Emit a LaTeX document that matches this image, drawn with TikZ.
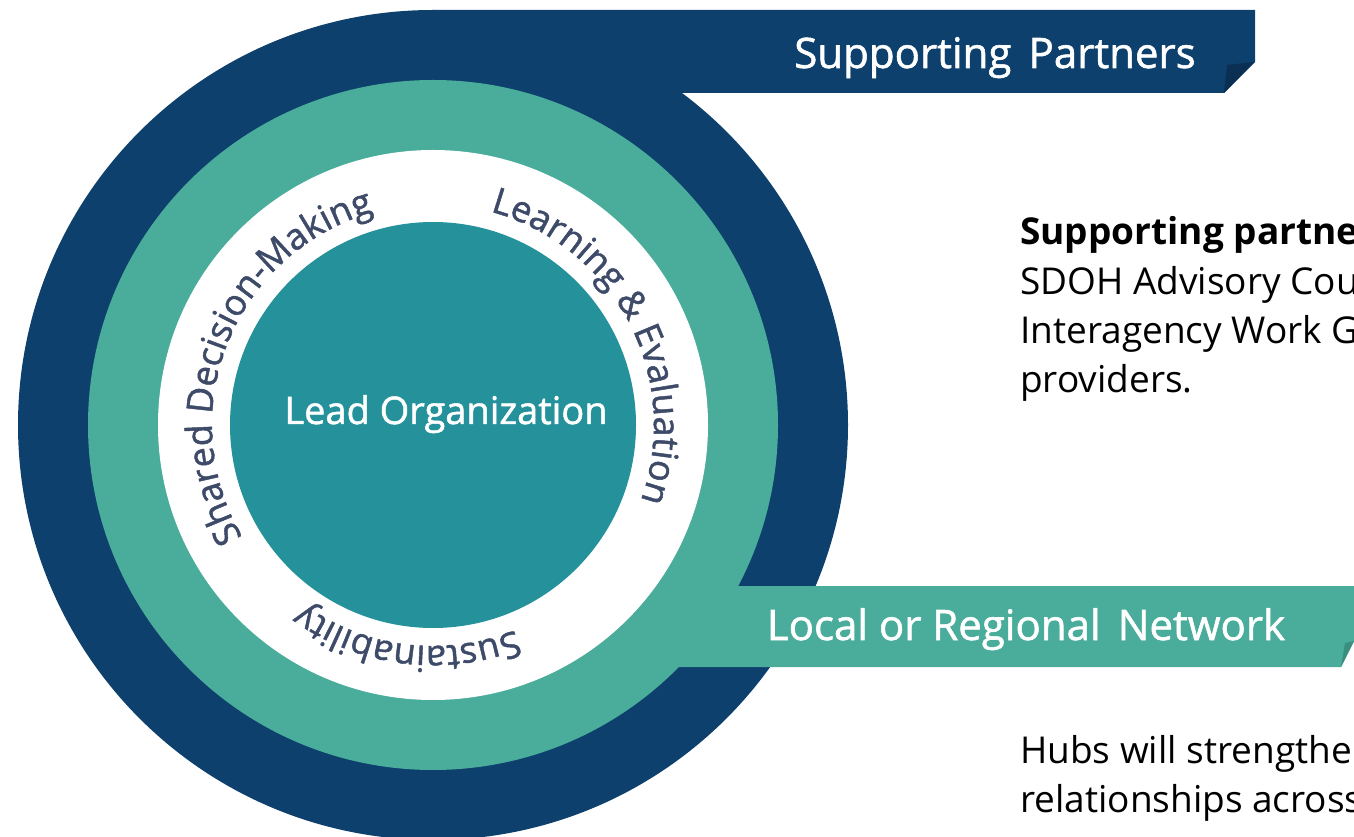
\documentclass[tikz,border=0pt]{standalone}
\usepackage{fontspec}
\setmainfont{Open Sans}
\newfontfamily\semifont[FakeBold=1.3]{Open Sans}
\usetikzlibrary{decorations.text}
\definecolor{navy}{HTML}{0D406C}
\definecolor{foldnavy}{HTML}{0A2F52}
\definecolor{ringgreen}{HTML}{4AAC9A}
\definecolor{foldgreen}{HTML}{3A8E7F}
\definecolor{coreteal}{HTML}{25929B}
\definecolor{arctext}{HTML}{3D4A68}
\newcommand{\arcfont}{\semifont\fontsize{36}{40}\selectfont}

\begin{document}
\begin{tikzpicture}[x=1pt,y=1pt,
  bannertext/.style={text=white, font=\semifont\fontsize{42}{46}\selectfont, inner sep=0pt, anchor=base},
  leadtext/.style={text=white, font=\semifont\fontsize{38}{44}\selectfont, inner sep=0pt, anchor=base},
  bodytext/.style={text=black, font=\fontsize{37}{44}\selectfont, inner sep=0pt, anchor=base west},
  ringtext/.style={decorate, decoration={text along path, text align=center, text={|\arcfont\color{arctext}|#1}}}
]
\useasboundingbox (0,0) rectangle (1354,836);
\clip (0,0) rectangle (1354,836);
\coordinate (C) at (433,411);

% outer ring with the supporting partners banner
\fill[navy] (C) circle[radius=415pt];
\fill[navy] (433,826) -- (1255,826) -- (1255,774) -- (1224,743) -- (433,743) -- cycle;
\fill[foldnavy] (1227,771) -- (1254,774) -- (1224,743) -- cycle;

% network ring with its banner
\fill[ringgreen] (C) circle[radius=345pt];
\fill[ringgreen] (600,250) -- (1354,250) -- (1354,195) -- (1341,169) -- (600,169) -- cycle;
\fill[foldgreen] (1345,193) -- (1354,195) -- (1341,169) -- cycle;

% principles ring and core
\fill[white] (C) circle[radius=275pt];
\fill[coreteal] (C) circle[radius=203pt];

\node[leadtext] (lead) at (446,412) {Lead Organization};
\node[bannertext] (partners) at (995,768) {Supporting\hspace{0.15em} Partners};
\node[bannertext] (network) at (1026,196) {Local or Regional\hspace{0.15em} Network};

% curved labels, running clockwise with tops outward
\path[ringtext={Shared Decision-Making}] ([shift={(250:221pt)}]C) arc[start angle=250, end angle=66, radius=221pt];
\path[ringtext={Learning {\&} Evaluation}] ([shift={(100:221pt)}]C) arc[start angle=100, end angle=-45, radius=221pt];
\path[ringtext={Sustainability}] ([shift={(-40:221pt)}]C) arc[start angle=-40, end angle=-154, radius=221pt];

% descriptions
\node[bodytext] (sp1) at (1020,591) {\bfseries Supporting partne};
\node[bodytext] (sp2) at (1020,541) {SDOH Advisory Cou};
\node[bodytext] (sp3) at (1020,492) {Interagency Work G};
\node[bodytext] (sp4) at (1020,443) {providers.};
\node[bodytext] (hb1) at (1020,73) {Hubs will strengthe};
\node[bodytext] (hb2) at (1020,24) {relationships across};
\end{tikzpicture}
\end{document}
